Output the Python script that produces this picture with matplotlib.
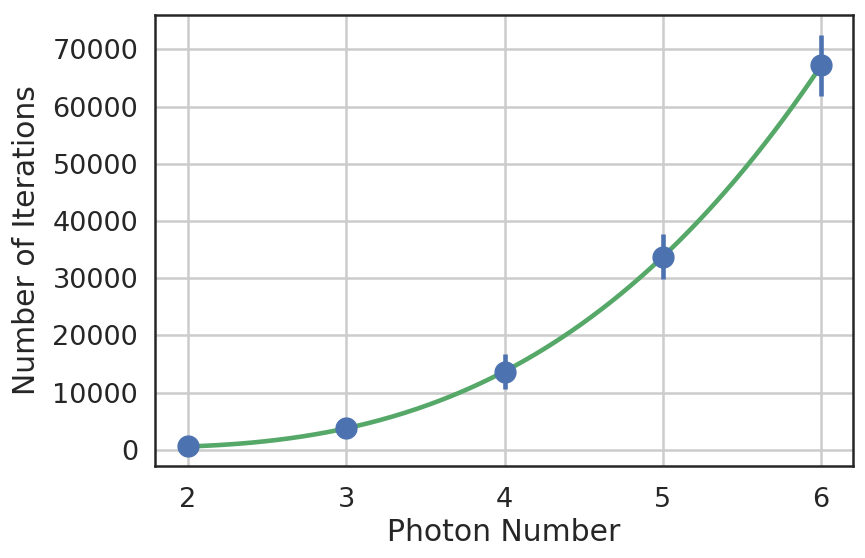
import numpy as np
import matplotlib.pyplot as plt

# data
photons = [2, 3, 4, 5, 6]
iterations = [600, 3800, 13700, 33800, 67200]
iter_err = [0, 0, 3100, 4000, 5300]

blue = '#4c72b0'
green = '#55a868'
text_c = '#262626'

plt.rcParams['font.family'] = 'DejaVu Sans'
plt.rcParams['text.color'] = text_c
plt.rcParams['axes.labelcolor'] = text_c
plt.rcParams['xtick.color'] = text_c
plt.rcParams['ytick.color'] = text_c

fig = plt.figure(figsize=(8.65, 5.58), dpi=100)
ax = fig.add_axes([0.179, 0.165, 0.807, 0.808])

# fitted curve through the measured points
coef = np.polyfit(photons, iterations, 3)
xs = np.linspace(2, 6, 200)
ax.plot(xs, np.polyval(coef, xs), color=green, lw=3.3, zorder=2)

ax.errorbar(photons, iterations, yerr=iter_err, fmt='o', color=blue,
            ms=15, elinewidth=3.3, capsize=0, zorder=3)

ax.set_xlim(1.79, 6.2)
ax.set_ylim(-2800, 76000)
ax.set_xticks(photons)
ax.set_yticks(np.arange(0, 70001, 10000))
ax.grid(True, color='#cccccc', lw=1.8)
ax.set_axisbelow(True)
for s in ax.spines.values():
    s.set_color(text_c)
    s.set_linewidth(1.8)
ax.tick_params(length=0, labelsize=19.5)
ax.tick_params(axis='x', pad=15)
ax.tick_params(axis='y', pad=12)

ax.set_xlabel('Photon Number', fontsize=21.5, labelpad=4)
ax.set_ylabel('Number of Iterations', fontsize=21.5, labelpad=8)

fig.savefig('out.png')
